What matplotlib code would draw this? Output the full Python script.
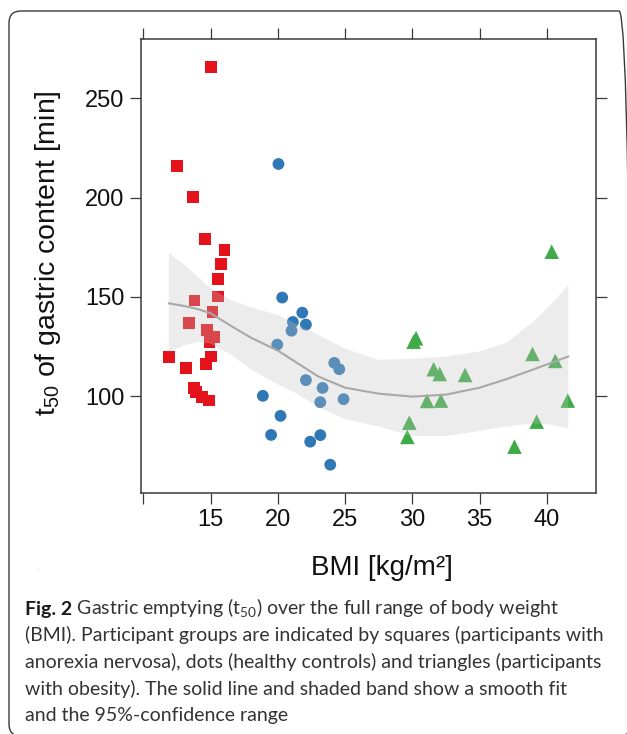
"""Gastric emptying t50 against BMI, three participant groups with smooth fit."""
import matplotlib
matplotlib.use("Agg")
import matplotlib.pyplot as plt
from matplotlib.patches import FancyBboxPatch

plt.rcParams["font.family"] = ["Liberation Sans", "DejaVu Sans"]

# anorexia nervosa (squares)
an_bmi = [15.06, 12.48, 13.67, 14.61, 16.03, 15.78, 15.54, 15.58, 13.80, 15.14, 13.40,
          14.72, 15.29, 14.92, 15.04, 11.89, 14.69, 13.20, 13.77, 13.90, 14.35, 14.87]
an_t50 = [266.0, 216.0, 200.3, 179.1, 173.5, 166.8, 159.1, 150.2, 148.2, 142.6, 136.8,
          133.4, 129.7, 127.5, 120.0, 119.6, 116.3, 114.3, 104.3, 102.0, 99.5, 97.8]

# healthy controls (dots)
hc_bmi = [20.05, 20.33, 21.82, 21.12, 22.09, 21.02, 19.96, 24.20, 24.57, 22.09,
          23.33, 18.89, 24.89, 23.16, 20.20, 19.50, 23.16, 22.41, 23.90]
hc_t50 = [217.0, 149.7, 142.1, 137.4, 136.1, 133.0, 126.0, 116.8, 113.6, 108.1,
          104.2, 100.2, 98.5, 97.0, 90.1, 80.5, 80.4, 77.1, 65.5]

# obesity (triangles)
ob_bmi = [40.37, 30.28, 30.10, 38.94, 40.63, 31.59, 32.04, 33.93, 31.10, 32.13,
          41.56, 29.78, 39.25, 29.63, 37.60]
ob_t50 = [172.8, 129.2, 127.5, 121.3, 117.8, 113.6, 111.2, 110.7, 97.6, 97.8,
          97.8, 86.7, 87.2, 79.5, 74.6]

# smooth fit and its 95% band
fit_bmi = [11.9, 13.0, 14.0, 15.0, 16.5, 18.0, 20.0, 21.5, 23.0, 25.0, 27.5,
           30.0, 32.5, 35.0, 37.0, 39.0, 40.5, 41.6]
fit_t50 = [146.8, 145.5, 144.0, 141.8, 135.5, 129.5, 123.0, 116.5, 110.0, 104.3, 101.3,
           99.8, 100.8, 104.3, 108.6, 113.5, 117.2, 120.0]
fit_hi = [172.3, 166.5, 160.5, 154.5, 148.5, 144.8, 141.0, 136.0, 131.0, 124.0, 118.3,
          118.8, 120.0, 122.5, 127.0, 137.5, 147.5, 156.0]
fit_lo = [122.5, 125.5, 127.3, 126.5, 121.0, 113.5, 106.0, 101.0, 94.5, 88.5, 84.7,
          80.0, 80.0, 82.5, 84.7, 86.4, 85.5, 83.9]

x_ticks = [10, 15, 20, 25, 30, 35, 40]
x_tick_labels = ["", "15", "20", "25", "30", "35", "40"]
y_ticks = [100, 150, 200, 250]

caption_head = "Fig. 2"
caption_lines = [
    " Gastric emptying (t$_\\mathregular{50}$) over the full range of body weight",
    "(BMI). Participant groups are indicated by squares (participants with",
    "anorexia nervosa), dots (healthy controls) and triangles (participants",
    "with obesity). The solid line and shaded band show a smooth fit",
    "and the 95%-confidence range",
]

W, H = 627, 734
fig = plt.figure(figsize=(W / 100, H / 100), dpi=100)
fig.patch.set_facecolor("white")

# rounded frame around the whole figure, right side runs off the edge
frame = FancyBboxPatch((0.09, -0.02), 6.22, 7.25, boxstyle="round,pad=0,rounding_size=0.12",
                       transform=fig.dpi_scale_trans, facecolor="none",
                       edgecolor="#3a3a3a", linewidth=1.0, clip_on=False)
fig.add_artist(frame)

ax_l, ax_r, ax_t, ax_b = 141.3, 595.7, 39.3, 492.7
ax = fig.add_axes([ax_l / W, 1 - ax_b / H, (ax_r - ax_l) / W, (ax_b - ax_t) / H])

ax.scatter(an_bmi, an_t50, marker="s", s=72, color="#e3121b", edgecolors="none", zorder=2)
ax.scatter(hc_bmi, hc_t50, marker="o", s=72, color="#2f78b5", edgecolors="none", zorder=2)
ax.scatter(ob_bmi, ob_t50, marker="^", s=110, color="#3fab47", edgecolors="none", zorder=2)

ax.fill_between(fit_bmi, fit_lo, fit_hi, facecolor="#c2c2c2", alpha=0.3, linewidth=0, zorder=3)
ax.plot(fit_bmi, fit_t50, color="#a8a8a8", linewidth=1.5, zorder=4)

ax.set_xlim(9.85, 43.64)
ax.set_ylim(51.4, 279.8)
ax.set_xticks(x_ticks)
ax.set_xticklabels(x_tick_labels)
ax.set_yticks(y_ticks)

for sp in ax.spines.values():
    sp.set_color("#3a3a3a")
    sp.set_linewidth(1.1)
ax.tick_params(direction="out", length=8, width=0.9, color="#3a3a3a",
               top=True, right=True, labeltop=False, labelright=False,
               labelsize=17, labelcolor="#111111", pad=4)

ax.set_xlabel("BMI [kg/m²]", fontsize=20, color="#111111")
ax.xaxis.set_label_coords(0.53, -0.138)
ax.set_ylabel("t$_\\mathregular{50}$ of gastric content [min]", fontsize=20.5, color="#111111")
ax.yaxis.set_label_coords(-0.172, 0.529)

# stray mark left of the axis title
fig.text(37.7 / W, 1 - 569.3 / H, "-", fontsize=4, color="#8a9bb0", ha="center", va="center")

# caption
cap_font = ["Lato", "DejaVu Sans"]
cap_size = 14
cap_x = 25 / W
base_y = [614.7, 641.4, 668.1, 694.8, 721.5]
head = fig.text(cap_x, 1 - base_y[0] / H, caption_head, family=cap_font, fontsize=cap_size,
                weight="bold", color="#1a1a1a", va="baseline")
ax.annotate(caption_lines[0], xy=(1, 1 - base_y[0] / H), xycoords=(head, "figure fraction"),
            family=cap_font, fontsize=cap_size, color="#333333", va="baseline", ha="left",
            annotation_clip=False)
for line, by in zip(caption_lines[1:], base_y[1:]):
    fig.text(cap_x, 1 - by / H, line, family=cap_font, fontsize=cap_size, color="#333333",
             va="baseline")

fig.savefig("out.png", dpi=100)
plt.close(fig)
